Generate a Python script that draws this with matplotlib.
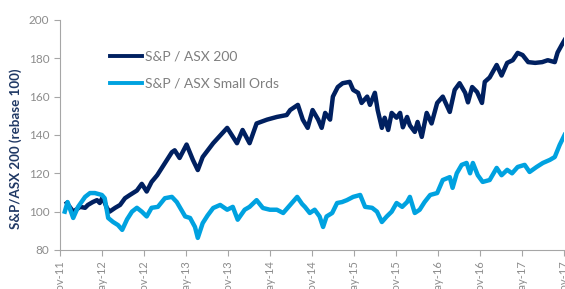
import matplotlib
matplotlib.use("Agg")
import matplotlib.pyplot as plt

# months since Nov-11
asx200_x = [1.0, 1.9, 2.9, 3.6, 4.0, 4.7, 5.3, 5.7, 6.1, 6.7, 7.1, 7.9, 8.6, 9.3, 10.0,
            11.0, 11.7, 12.4, 13.1, 13.9, 14.6, 15.3, 16.0, 16.4, 17.1, 18.1, 19.0, 19.7,
            20.4, 21.9, 23.9, 25.3, 26.1, 27.1, 28.1, 29.6, 31.0, 32.4, 32.9, 34.0, 34.7,
            35.4, 36.1, 36.9, 37.4, 37.9, 38.6, 39.0, 39.7, 40.4, 41.4, 41.9, 42.6, 43.1,
            43.9, 44.3, 45.0, 45.4, 46.0, 46.4, 46.9, 47.4, 48.1, 48.6, 49.0, 49.6, 50.0,
            50.7, 51.1, 51.7, 52.4, 53.1, 53.9, 54.7, 55.7, 56.4, 57.1, 57.9, 58.3, 58.9,
            59.6, 60.3, 60.7, 61.4, 62.4, 63.1, 63.9, 64.7, 65.4, 66.1, 66.9, 67.9, 68.9,
            69.7, 70.7, 71.1, 71.7, 72.1]
asx200_y = [104.5, 100, 102.5, 102, 103.5, 105, 106, 104.5, 107.5, 102, 100, 102, 103.5, 107, 108.7,
            111, 114.5, 110.5, 115.5, 119, 123, 127, 131, 132, 128, 135, 127, 121.7,
            128.5, 135.7, 143.7, 135.7, 142.6, 135.7, 146, 148, 149.4, 150.4, 153, 155.7, 148,
            143.7, 153, 148, 143.7, 151.5, 148, 160, 165, 167, 167.7, 163.5, 162, 156.7,
            160, 155.7, 162, 153, 143.7, 149, 142.6, 151.5, 149, 151.5, 144, 149.4, 145,
            141.6, 146.8, 139, 151.5, 146, 156.7, 160, 152, 163.5, 167, 162, 157, 165,
            162.4, 156.7, 167.7, 170, 176.5, 171, 177.6, 179, 182.8, 181.7, 178, 177.6, 178,
            179, 178, 183, 187, 189.5]

small_x = [0.7, 1.1, 1.9, 2.6, 3.6, 4.3, 5.0, 6.0, 6.4, 6.9, 7.6, 8.3, 8.9, 9.6, 10.3,
           11.0, 11.7, 12.4, 13.1, 14.0, 15.0, 16.0, 16.7, 17.1, 17.9, 18.6, 19.3, 19.7,
           20.4, 21.1, 21.9, 22.9, 23.9, 24.7, 25.4, 26.4, 27.1, 28.1, 29.0, 30.0, 31.0,
           31.9, 32.9, 33.9, 34.6, 35.0, 35.7, 36.4, 37.1, 37.6, 38.1, 38.9, 39.6, 40.3,
           41.0, 41.9, 42.9, 43.6, 44.6, 45.3, 46.0, 46.7, 47.4, 48.1, 48.9, 49.6, 50.0,
           50.7, 51.4, 52.1, 52.9, 53.9, 54.7, 55.7, 56.1, 56.7, 57.4, 58.1, 58.6, 59.0,
           59.7, 60.4, 61.4, 62.4, 63.1, 63.9, 64.6, 65.4, 66.4, 67.1, 68.1, 69.0, 70.0,
           70.7, 71.4, 72.1]
small_y = [100, 105, 96.7, 102.5, 107.7, 109.7, 109.7, 108.7, 107, 96.7, 94.6, 93, 90.5, 96, 100,
           102, 100, 97.5, 102, 102.5, 107, 107.7, 105, 102.5, 97.5, 96.7, 92, 86.3,
           94, 98, 101.9, 103.5, 101, 102.5, 95.8, 101, 102.5, 106, 101.9, 101, 101,
           99.3, 103.5, 107.7, 104, 102.5, 99.3, 101, 97.5, 92, 97.5, 99.3, 104.5, 105,
           106, 107.7, 108.7, 102.5, 102, 100, 94.6, 97.5, 100, 104.5, 102.5, 105, 107.7,
           99.3, 101, 105, 108.7, 109.7, 116.5, 118, 112.4, 120, 124.4, 125.4, 120, 125.4,
           119, 115.5, 116.5, 122.8, 119, 121.8, 120, 123.3, 124.4, 120.7, 123.3, 125.4, 127,
           128.5, 134.8, 140]

tick_months = [0, 6, 12, 18, 24, 30, 36, 42, 48, 54, 60, 66, 72]
tick_labels = ["Nov-11", "May-12", "Nov-12", "May-13", "Nov-13", "May-14", "Nov-14",
               "May-15", "Nov-15", "May-16", "Nov-16", "May-17", "Nov-17"]

plt.rcParams['font.family'] = ['Lato', 'DejaVu Sans']
grey = '#8C8C8C'
spine_grey = '#A6A6A6'

fig = plt.figure(figsize=(5.65, 2.89), dpi=100)
ax = fig.add_axes([0.106, 0.135, 0.892, 0.796])

ax.plot(asx200_x, asx200_y, color='#002060', lw=3.2, solid_joinstyle='round',
        label='S&P / ASX 200')
ax.plot(small_x, small_y, color='#00A2E0', lw=3.2, solid_joinstyle='round',
        label='S&P / ASX Small Ords')

ax.set_xlim(0, 72)
ax.set_ylim(80, 200)
ax.set_yticks(range(80, 201, 20))
ax.set_xticks(tick_months)
ax.set_xticklabels(tick_labels, rotation=90, color=grey, fontsize=8)
ax.tick_params(axis='y', colors=spine_grey, labelcolor=grey, labelsize=8.5, length=4)
ax.tick_params(axis='x', colors=spine_grey, labelcolor=grey, length=4)
for s in ['top', 'right']:
    ax.spines[s].set_visible(False)
for s in ['left', 'bottom']:
    ax.spines[s].set_color(spine_grey)

ax.set_ylabel('S&P/ASX 200 (rebase 100)', color='#1F3864', fontsize=9.6,
              fontweight='bold')
ax.yaxis.set_label_coords(-0.076, 0.44)

leg = ax.legend(loc='upper left', bbox_to_anchor=(0.075, 0.92), frameon=False,
                fontsize=10, handlelength=2.3, handletextpad=0.2, labelspacing=1.05)
for t in leg.get_texts():
    t.set_color('#7F7F7F')
for h in leg.get_lines():
    h.set_linewidth(2.8)

fig.savefig('out.png', dpi=100)
